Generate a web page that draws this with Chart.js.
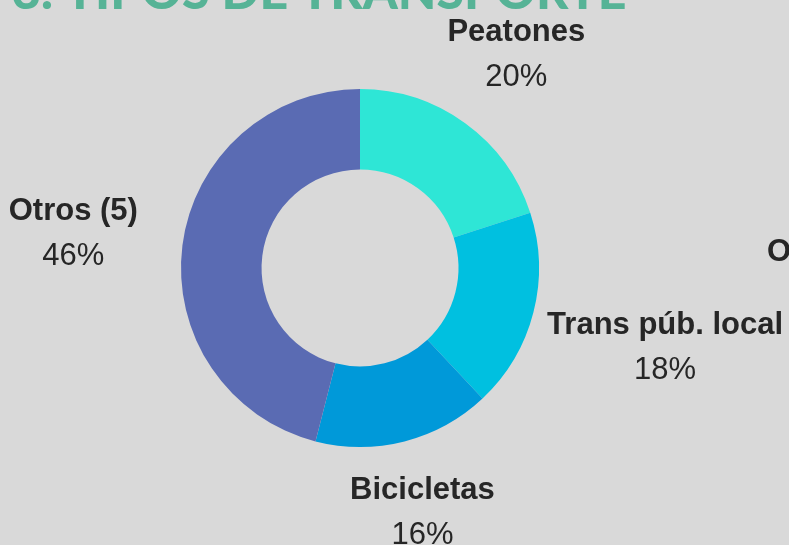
<!DOCTYPE html>
<html>
<head>
<meta charset="utf-8">
<script src="https://cdn.jsdelivr.net/npm/chart.js@4/dist/chart.umd.min.js"></script>
<style>
  html, body { margin: 0; padding: 0; background: #d9d9d9; }
  #wrap { width: 789px; height: 545px; position: relative; overflow: hidden; }
</style>
</head>
<body>
<div id="wrap"><canvas id="transportChart"></canvas></div>
<script>
const categories = ["Peatones", "Trans púb. local", "Bicicletas", "Otros (5)"];
const shares = [20, 18, 16, 46];
const sliceColors = ["#2ee6d6", "#00c0e0", "#0099d9", "#5a6bb3"];
const titleText = "3. TIPOS DE TRANSPORTE";

// distance from the centre of the ring to the middle of each label
const labelDist = [266, 315, 251, 289];

const outsideLabels = {
  id: "outsideLabels",
  afterDatasetsDraw(chart) {
    const ctx = chart.ctx;
    const arcs = chart.getDatasetMeta(0).data;
    const values = chart.data.datasets[0].data;
    const total = values.reduce((a, b) => a + b, 0);
    ctx.save();
    ctx.textAlign = "center";
    ctx.textBaseline = "alphabetic";
    ctx.fillStyle = "#262626";
    arcs.forEach((arc, i) => {
      const mid = (arc.startAngle + arc.endAngle) / 2;
      const cx = arc.x + Math.cos(mid) * labelDist[i];
      const cy = arc.y + Math.sin(mid) * labelDist[i];
      ctx.font = "bold 31px 'Liberation Sans', Arial, sans-serif";
      ctx.fillText(chart.data.labels[i], cx, cy - 12);
      ctx.font = "31px 'Liberation Sans', Arial, sans-serif";
      ctx.fillText(Math.round(values[i] / total * 100) + "%", cx, cy + 33);
    });
    ctx.restore();
  }
};

const pageText = {
  id: "pageText",
  afterDraw(chart) {
    const ctx = chart.ctx;
    ctx.save();
    // title, mostly cut off by the top edge
    ctx.fillStyle = "#56b396";
    ctx.textAlign = "left";
    ctx.textBaseline = "alphabetic";
    ctx.font = "900 50px Lato, 'Liberation Sans', sans-serif";
    ctx.fillText(titleText, 12, 9);
    // label of the next chart, clipped at the right edge
    ctx.fillStyle = "#262626";
    ctx.font = "bold 31px 'Liberation Sans', Arial, sans-serif";
    ctx.fillText("O", 767, 261);
    ctx.restore();
  }
};

new Chart(document.getElementById("transportChart"), {
  type: "doughnut",
  data: {
    labels: categories,
    datasets: [
      {
        data: shares,
        backgroundColor: sliceColors,
        borderWidth: 0,
        hoverOffset: 0,
      },
    ],
  },
  options: {
    responsive: true,
    maintainAspectRatio: false,
    animation: false,
    cutout: "55%",
    layout: { padding: { left: 181, right: 250, top: 89, bottom: 98 } },
    plugins: {
      legend: { display: false },
      tooltip: { enabled: false },
    },
  },
  plugins: [outsideLabels, pageText],
});
</script>
</body>
</html>
